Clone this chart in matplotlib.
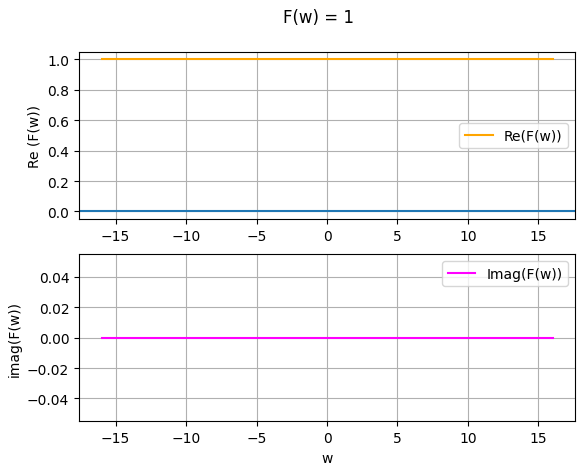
import numpy as np
import matplotlib
matplotlib.use("Agg")
import matplotlib.pyplot as plt

w = np.linspace(-16, 16, 321)
re_F = np.ones_like(w)
im_F = np.zeros_like(w)

fig, (ax1, ax2) = plt.subplots(2, 1, figsize=(5.85, 4.64), dpi=100)
fig.subplots_adjust(left=0.135, right=0.983, top=0.886, bottom=0.09, hspace=0.21)
fig.suptitle("F(w) = 1", x=0.544)

ax1.plot(w, re_F, color="orange", label="Re(F(w))")
ax1.axhline(0)
ax1.set_ylabel("Re (F(w))")
ax1.grid(True)
ax1.legend(loc="center right")

ax2.plot(w, im_F, color="magenta", label="Imag(F(w))")
ax2.set_ylabel("imag(F(w))")
ax2.set_xlabel("w")
ax2.grid(True)
ax2.legend(loc="upper right")

fig.savefig("out.png")
